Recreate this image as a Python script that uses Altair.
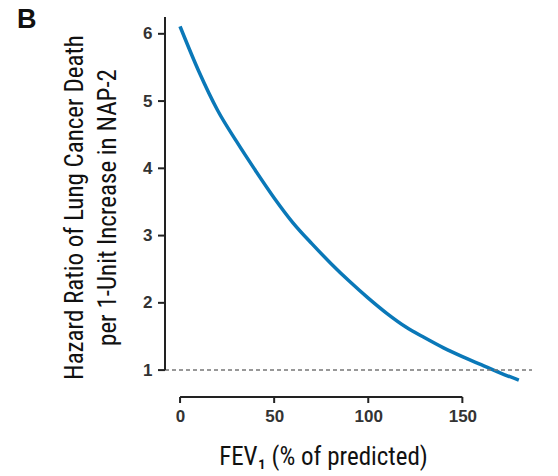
import altair as alt
import pandas as pd

fev1 = [0, 10, 20, 30, 40, 50, 60, 70, 80, 90, 100, 110, 120, 130, 140, 150, 160, 170, 180]
hazard_ratio = [6.11, 5.44, 4.86, 4.40, 3.97, 3.56, 3.19, 2.88, 2.59, 2.32, 2.07, 1.84, 1.64, 1.48, 1.33, 1.20, 1.08, 0.96, 0.85]
x_ticks = [0, 50, 100, 150]
y_ticks = [1, 2, 3, 4, 5, 6]
x_domain = [-8, 187]
y_domain = [0.6, 6.25]
reference_hr = 1

df = pd.DataFrame({"fev1": fev1, "hr": hazard_ratio})

FONT = "Liberation Sans Narrow, Roboto Condensed, Liberation Sans, Arial"
LABEL_FONT = "Liberation Sans, Arial"

xscale = alt.Scale(domain=x_domain, nice=False, zero=False)
yscale = alt.Scale(domain=y_domain, nice=False, zero=False)

common = dict(domain=False, grid=False, ticks=False,
              labelFont=LABEL_FONT, labelFontSize=17, labelFontWeight="bold", labelColor="#333",
              titleFont=FONT, titleFontSize=25, titleFontWeight="normal", titleColor="#111")

x_axis = alt.Axis(
    values=x_ticks, format="d", title="FEV\u2081 (% of predicted)", titlePadding=20,
    labelPadding=11, titleX=158, titleAlign="center", **common,
)
y_axis = alt.Axis(
    values=y_ticks, format="d",
    title=["Hazard Ratio of Lung Cancer Death", "per 1-Unit Increase in NAP-2"],
    titlePadding=22, titleLineHeight=33, labelPadding=13, **common,
)

curve = alt.Chart(df).mark_line(color="#0a78b8", strokeWidth=3.5, interpolate="monotone").encode(
    x=alt.X("fev1:Q", scale=xscale, axis=x_axis),
    y=alt.Y("hr:Q", scale=yscale, axis=y_axis),
)

ref = alt.Chart(pd.DataFrame({"y": [reference_hr], "x0": [x_domain[0]], "x1": [x_domain[1]]})).mark_rule(
    color="#777", strokeWidth=1.5, strokeDash=[4, 3]
).encode(
    x=alt.X("x0:Q", scale=xscale, axis=x_axis), x2="x1:Q", y=alt.Y("y:Q", scale=yscale, axis=y_axis)
)

x_line = alt.Chart(pd.DataFrame({"x0": [x_ticks[0]], "x1": [x_ticks[-1]], "y": [y_domain[0]]})).mark_rule(
    color="#222", strokeWidth=2
).encode(x=alt.X("x0:Q", scale=xscale, axis=x_axis), x2="x1:Q", y=alt.Y("y:Q", scale=yscale, axis=y_axis))

y_line = alt.Chart(pd.DataFrame({"x": [x_domain[0]], "y0": [reference_hr], "y1": [y_domain[1]]})).mark_rule(
    color="#222", strokeWidth=2
).encode(x=alt.X("x:Q", scale=xscale, axis=x_axis), y=alt.Y("y0:Q", scale=yscale, axis=y_axis), y2="y1:Q")

x_tick_marks = alt.Chart(pd.DataFrame({"x": x_ticks, "y": [y_domain[0]] * len(x_ticks)})).mark_tick(
    orient="vertical", size=6, thickness=2, color="#222", yOffset=3, opacity=1
).encode(x=alt.X("x:Q", scale=xscale, axis=x_axis), y=alt.Y("y:Q", scale=yscale, axis=y_axis))

y_tick_marks = alt.Chart(pd.DataFrame({"x": [x_domain[0]] * len(y_ticks), "y": y_ticks})).mark_tick(
    orient="horizontal", size=7, thickness=2, color="#222", xOffset=-3.5, opacity=1
).encode(x=alt.X("x:Q", scale=xscale, axis=x_axis), y=alt.Y("y:Q", scale=yscale, axis=y_axis))

chart = alt.layer(curve, ref, x_line, y_line, x_tick_marks, y_tick_marks).properties(
    width=367, height=380,
    background="white",
    title=alt.TitleParams("B", font="Liberation Sans, Arial", fontSize=27, fontWeight="bold",
                          color="#111", anchor="start", orient="top", frame="group", dx=-148, dy=18, offset=0),
    autosize=alt.AutoSizeParams(type="none"),
    padding={"left": 165, "top": 17, "right": 26, "bottom": 79},
).configure_view(stroke=None)

chart.save("out.html", embed_options={"renderer": "svg", "actions": False})
